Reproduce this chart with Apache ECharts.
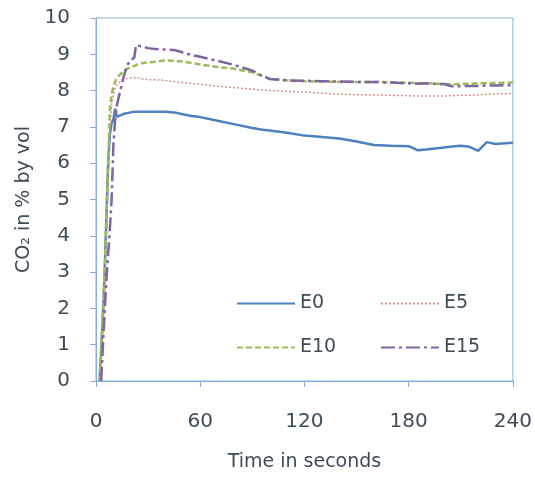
<!DOCTYPE html>
<html>
<head>
<meta charset="utf-8">
<script src="https://cdn.jsdelivr.net/npm/echarts@6/dist/echarts.min.js"></script>
<style>html,body{margin:0;padding:0;background:#fff;}#c{width:535px;height:481px;}</style>
</head>
<body>
<div id="c"></div>
<script>
// Time points (seconds)
const times = [0,2,3,4,5,6,7,8,9,10,11,12,14,16,18,20,22,23,24,26,30,35,40,45,50,55,60,70,80,90,95,100,110,120,130,140,150,160,170,180,185,190,200,205,210,215,220,225,230,240];
const e0  = [null,0,0.8,1.8,3.0,4.5,6.0,6.8,7.1,7.2,7.5,7.28,7.32,7.36,7.38,7.4,7.42,7.42,7.42,7.42,7.42,7.42,7.42,7.4,7.35,7.3,7.27,7.17,7.07,6.97,6.93,6.9,6.84,6.76,6.72,6.68,6.6,6.5,6.48,6.47,6.36,6.38,6.43,6.46,6.48,6.45,6.34,6.58,6.53,6.56];
const e5  = [null,0,0.6,1.5,2.5,4.0,5.5,7.0,7.6,7.9,8.05,8.15,8.25,8.3,8.33,8.35,8.36,8.36,8.35,8.33,8.3,8.3,8.28,8.25,8.22,8.2,8.18,8.12,8.08,8.04,8.02,8.0,7.98,7.96,7.93,7.9,7.89,7.88,7.87,7.86,7.85,7.85,7.85,7.86,7.87,7.87,7.88,7.9,7.91,7.92];
const e10 = [null,0,1.0,2.0,3.0,4.6,6.0,7.5,7.9,8.1,8.25,8.35,8.45,8.55,8.6,8.65,8.68,8.7,8.72,8.75,8.78,8.8,8.83,8.82,8.8,8.76,8.72,8.65,8.6,8.5,8.42,8.33,8.28,8.26,8.25,8.24,8.24,8.24,8.23,8.22,8.2,8.2,8.18,8.17,8.18,8.19,8.2,8.2,8.21,8.22];
const e15 = [null,null,0,1.0,1.9,2.8,3.5,4.2,5.0,6.5,7.2,7.6,8.0,8.4,8.7,8.85,8.9,9.25,9.24,9.22,9.17,9.14,9.13,9.12,9.05,8.98,8.93,8.82,8.7,8.55,8.42,8.32,8.28,8.27,8.26,8.25,8.24,8.24,8.22,8.2,8.19,8.2,8.18,8.12,8.12,8.13,8.13,8.14,8.14,8.15];
const seriesNames = ['E0','E5','E10','E15'];
const xTicks = [0,60,120,180,240];

const txt = '#3E4C58';
const axisCol = '#86AED6';
const font = '"DejaVu Sans", sans-serif';

function pairs(v){ return times.map((t,i)=>[t,v[i]]); }

const chart = echarts.init(document.getElementById('c'));
const legendBase = {
  orient:'horizontal', itemWidth:58, itemHeight:14, itemGap:5,
  itemStyle:{opacity:0},
  textStyle:{color:txt, fontSize:19, fontFamily:font}, selectedMode:false
};
chart.setOption({
  animation:false,
  grid:{left:96,right:22,top:18,bottom:100,show:true,borderColor:axisCol,borderWidth:1},
  legend:[
    Object.assign({data:['E0'], left:231, top:289}, legendBase),
    Object.assign({data:['E5'], left:375, top:289, itemWidth:56}, legendBase),
    Object.assign({data:['E10'], left:231, top:333}, legendBase),
    Object.assign({data:['E15'], left:375, top:333, itemWidth:56}, legendBase)
  ],
  xAxis:{
    type:'value', min:0, max:240, interval:60,
    name:'Time in seconds', nameLocation:'middle', nameGap:72,
    nameTextStyle:{color:txt,fontSize:19,fontFamily:font},
    axisLine:{lineStyle:{color:axisCol}},
    axisTick:{show:true,length:6,lineStyle:{color:axisCol}},
    axisLabel:{color:txt,fontSize:20,fontFamily:font,margin:31,
      formatter:v=>xTicks.includes(v)?String(v):''},
    splitLine:{show:false}
  },
  yAxis:{
    type:'value', min:0, max:10, interval:1,
    name:'CO\u2082 in % by vol', nameLocation:'middle', nameGap:55,
    nameTextStyle:{color:txt,fontSize:19,fontFamily:font},
    axisLine:{show:true,lineStyle:{color:axisCol}},
    axisTick:{show:true,length:6,lineStyle:{color:axisCol}},
    axisLabel:{color:txt,fontSize:20,fontFamily:font,margin:26},
    splitLine:{show:false}
  },
  series:[
    {name:seriesNames[0],type:'line',data:pairs(e0),symbol:'none',lineStyle:{color:'#4F81BD',width:2.5},itemStyle:{color:'#4F81BD'}},
    {name:seriesNames[1],type:'line',data:pairs(e5),symbol:'none',lineStyle:{color:'#D9908E',width:1.5,type:[2,2]},itemStyle:{color:'#D9908E'}},
    {name:seriesNames[2],type:'line',data:pairs(e10),symbol:'none',lineStyle:{color:'#9BBB59',width:2.5,type:[6,3]},itemStyle:{color:'#9BBB59'}},
    {name:seriesNames[3],type:'line',data:pairs(e15),symbol:'none',lineStyle:{color:'#8064A2',width:2.5,type:[14,4,3,4]},itemStyle:{color:'#8064A2'}}
  ]
});
</script>
</body>
</html>
